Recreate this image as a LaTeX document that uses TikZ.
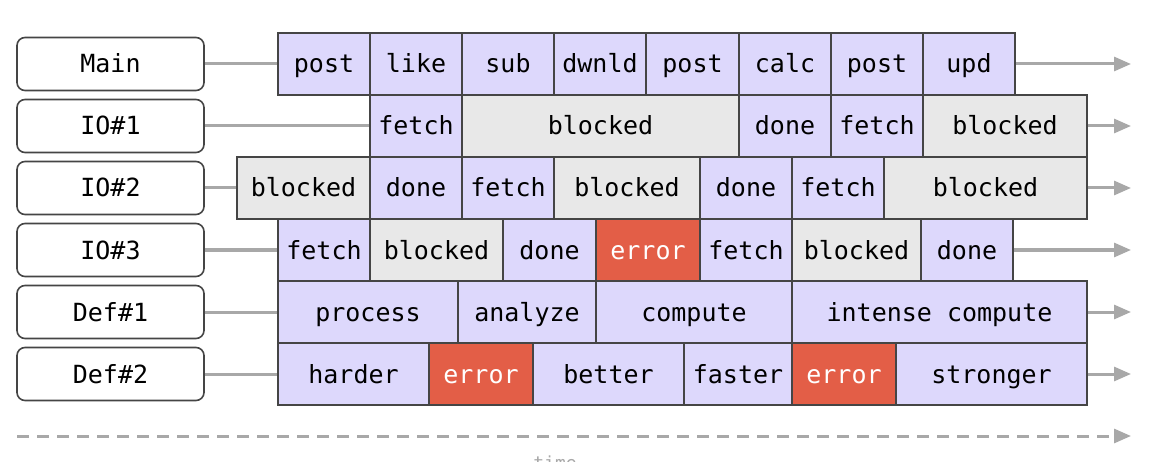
\documentclass[tikz,border=0pt]{standalone}
\usepackage{fontspec}
\setmonofont{DejaVu Sans Mono}
\usetikzlibrary{arrows.meta}
\definecolor{edge}{HTML}{454545}
\definecolor{workfill}{HTML}{DDD8FC}
\definecolor{waitfill}{HTML}{E8E8E8}
\definecolor{failfill}{HTML}{E35E47}
\definecolor{linkgray}{HTML}{A8A8A8}
\newcommand{\cellfont}{\ttfamily\fontsize{25}{26}\selectfont}
\tikzset{
  thread/.style={draw=edge, line width=1.6pt, rounded corners=8pt,
    minimum width=187pt, minimum height=53pt, inner sep=0pt,
    text height=22pt, text depth=4pt, font=\cellfont},
  cell/.style={draw=edge, line width=1.6pt, minimum height=62pt,
    inner sep=0pt, text height=22pt, text depth=4pt, font=\cellfont},
  work/.style={cell, fill=workfill},
  wait/.style={cell, fill=waitfill},
  fail/.style={cell, fill=failfill, text=white},
  link/.style={draw=linkgray, line width=3pt},
  flow/.style={link, -{Triangle[length=17pt,width=14pt]}},
}
\begin{document}
\begin{tikzpicture}[x=1pt, y=-1pt]
  \useasboundingbox (0,0) rectangle (1158,462);

  % thread labels
  \node[thread] (main) at (110.5,64) {Main};
  \node[thread] (ioa) at (110.5,126) {IO\#1};
  \node[thread] (iob) at (110.5,188) {IO\#2};
  \node[thread] (ioc) at (110.5,250) {IO\#3};
  \node[thread] (defa) at (110.5,312) {Def\#1};
  \node[thread] (defb) at (110.5,374) {Def\#2};

  % arrow ends
  \coordinate (mainend) at (1131,64);
  \coordinate (ioaend) at (1131,126);
  \coordinate (iobend) at (1131,188);
  \coordinate (iocend) at (1131,250);
  \coordinate (defaend) at (1131,312);
  \coordinate (defbend) at (1131,374);
  \coordinate (tstart) at (17,436);
  \coordinate (tend) at (1131,436);

  % tasks per thread
  \foreach \a/\b/\t/\s [count=\i] in {278/370/post/work, 370/462/like/work,
      462/554/sub/work, 554/646/dwnld/work, 646/739/post/work,
      739/831/calc/work, 831/923/post/work, 923/1015/upd/work}
    \node[\s, minimum width={\b-\a}] (main\i) at ({(\a+\b)/2},64) {\t};
  \foreach \a/\b/\t/\s [count=\i] in {370/462/fetch/work, 462/739/blocked/wait,
      739/831/done/work, 831/923/fetch/work, 923/1087/blocked/wait}
    \node[\s, minimum width={\b-\a}] (ioa\i) at ({(\a+\b)/2},126) {\t};
  \foreach \a/\b/\t/\s [count=\i] in {237/370/blocked/wait, 370/462/done/work,
      462/554/fetch/work, 554/700/blocked/wait, 700/792/done/work,
      792/884/fetch/work, 884/1087/blocked/wait}
    \node[\s, minimum width={\b-\a}] (iob\i) at ({(\a+\b)/2},188) {\t};
  \foreach \a/\b/\t/\s [count=\i] in {278/370/fetch/work, 370/503/blocked/wait,
      503/596/done/work, 596/700/error/fail, 700/792/fetch/work,
      792/921/blocked/wait, 921/1013/done/work}
    \node[\s, minimum width={\b-\a}] (ioc\i) at ({(\a+\b)/2},250) {\t};
  \foreach \a/\b/\t/\s [count=\i] in {278/458/process/work, 458/596/analyze/work,
      596/792/compute/work, 792/1087/intense compute/work}
    \node[\s, minimum width={\b-\a}] (defa\i) at ({(\a+\b)/2},312) {\t};
  \foreach \a/\b/\t/\s [count=\i] in {278/429/harder/work, 429/533/error/fail,
      533/684/better/work, 684/792/faster/work, 792/896/error/fail,
      896/1087/stronger/work}
    \node[\s, minimum width={\b-\a}] (defb\i) at ({(\a+\b)/2},374) {\t};

  % connectors
  \draw[link] (main) -- (main1);
  \draw[link] (ioa) -- (ioa1);
  \draw[link] (iob) -- (iob1);
  \draw[link] (ioc) -- (ioc1);
  \draw[link] (defa) -- (defa1);
  \draw[link] (defb) -- (defb1);
  \draw[flow] (main8) -- (mainend);
  \draw[flow] (ioa5) -- (ioaend);
  \draw[flow] (iob7) -- (iobend);
  \draw[flow] (ioc7) -- (iocend);
  \draw[flow] (defa4) -- (defaend);
  \draw[flow] (defb6) -- (defbend);

  % time axis
  \draw[flow, dash pattern=on 12pt off 8pt] (tstart) -- (tend);
  \node[anchor=base, text=linkgray, font=\ttfamily\fontsize{18}{18}\selectfont]
    (time) at (555,469) {time};
\end{tikzpicture}
\end{document}
